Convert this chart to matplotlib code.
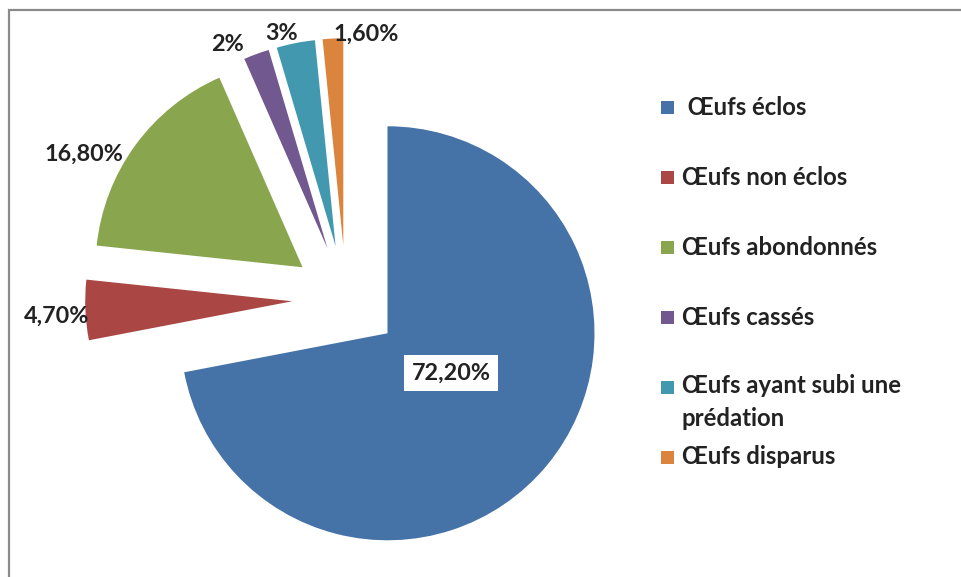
import matplotlib
matplotlib.use("Agg")
import matplotlib.pyplot as plt
from matplotlib.patches import Rectangle

# ---- data -------------------------------------------------------------------
categories = [" Œufs éclos", "Œufs non éclos", "Œufs abondonnés", "Œufs cassés",
              "Œufs ayant subi une\nprédation", "Œufs disparus"]
values = [72.2, 4.7, 16.8, 2.0, 3.0, 1.6]
value_labels = ["72,20%", "4,70%", "16,80%", "2%", "3%", "1,60%"]
colors = ["#4572A7", "#AA4643", "#89A54E", "#71588F", "#4198AF", "#DB843D"]

# ---- layout (pixel space, y up) --------------------------------------------
W, H = 962, 577
CENTER = (346, H - 299)
RADIUS = 207
EXPLODE = 0.26 * RADIUS
label_pos = [(451, H - 373), (57, H - 316), (84, H - 154),
             (228, H - 44), (282, H - 33), (366, H - 34)]
legend_y = [107, 177, 247, 317, 387, 457]
FONT = ["Lato", "DejaVu Sans"]
TXT = "#222222"

fig = plt.figure(figsize=(W / 100, H / 100), dpi=100)
ax = fig.add_axes([0, 0, 1, 1])

wedges, _ = ax.pie(values, colors=colors, startangle=90, counterclock=False,
                   center=CENTER, radius=RADIUS,
                   explode=[EXPLODE] * len(values),
                   wedgeprops={"linewidth": 0})

ax.set_xlim(0, W)
ax.set_ylim(0, H)
ax.set_aspect("equal")
ax.axis("off")

# chart-area frame (only top and left visible in the crop)
ax.add_patch(Rectangle((9, -20), W + 40, H - 10 + 20, fill=False,
                       edgecolor="#8a8a8a", linewidth=1.6, zorder=0))

# data labels
for i, (txt, (x, y)) in enumerate(zip(value_labels, label_pos)):
    kw = {}
    if i == 0:
        kw["bbox"] = dict(boxstyle="square,pad=0.33", fc="white", ec="none")
    ax.text(x, y, txt, ha="center", va="center", fontsize=16.8,
            fontweight="bold", family=FONT, color=TXT, zorder=5, **kw)

# legend, drawn by hand to match the spacing of the original
for name, col, y in zip(categories, colors, legend_y):
    ax.add_patch(Rectangle((661, H - y - 6.5), 13, 13, facecolor=col,
                           edgecolor="none"))
    if "\n" in name:
        ax.text(682, H - y + 13, name, ha="left", va="top", fontsize=17.2,
                fontweight="bold", family=FONT, color=TXT, linespacing=1.5)
    else:
        ax.text(682, H - y, name, ha="left", va="center", fontsize=17.2,
                fontweight="bold", family=FONT, color=TXT)

fig.savefig("out.png", dpi=100)
